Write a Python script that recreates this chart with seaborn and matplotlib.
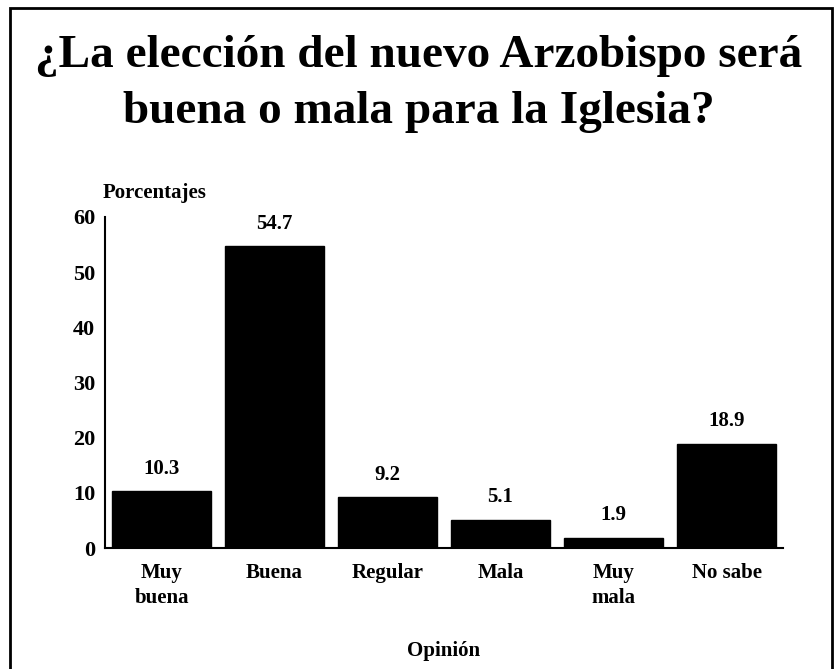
import matplotlib
matplotlib.use("Agg")
import matplotlib.pyplot as plt
import seaborn as sns
import pandas as pd
from matplotlib.patches import Rectangle

categories = ["Muy\nbuena", "Buena", "Regular", "Mala", "Muy\nmala", "No sabe"]
values = [10.3, 54.7, 9.2, 5.1, 1.9, 18.9]
value_labels = ["10.3", "54.7", "9.2", "5.1", "1.9", "18.9"]
yticks = [0, 10, 20, 30, 40, 50, 60]

sns.set_theme(style="white")
plt.rcParams['font.family'] = ['Liberation Serif', 'DejaVu Serif']
plt.rcParams['font.weight'] = 'bold'
plt.rcParams['text.color'] = 'black'
plt.rcParams['axes.labelcolor'] = 'black'
plt.rcParams['xtick.color'] = 'black'
plt.rcParams['ytick.color'] = 'black'

df = pd.DataFrame({"Opinión": categories, "Porcentaje": values})

fig = plt.figure(figsize=(8.38, 6.69), dpi=100)
ax = fig.add_axes([105/838, 1-548/669, 678/838, (548-217)/669])

sns.barplot(data=df, x="Opinión", y="Porcentaje", color="black",
            saturation=1, width=0.87, edgecolor="black", ax=ax)

ax.set_xlim(-0.5, 5.5)
ax.set_ylim(0, 60)
ax.set_yticks(yticks)
ax.set_yticklabels([str(t) for t in yticks], fontsize=16, fontweight='bold')
ax.tick_params(axis='y', length=2, width=1, color='black', pad=7, direction='in')
ax.tick_params(axis='x', length=0, pad=11)
for lbl in ax.get_xticklabels():
    lbl.set_fontsize(15)
    lbl.set_fontweight('bold')
    lbl.set_verticalalignment('top')
    lbl.set_linespacing(1.3)

for s in ["top", "right"]:
    ax.spines[s].set_visible(False)
for s in ["left", "bottom"]:
    ax.spines[s].set_color("black")
    ax.spines[s].set_linewidth(1.5)

for i, (v, t) in enumerate(zip(values, value_labels)):
    ax.annotate(t, (i, v), xytext=(0, 9), textcoords='offset points',
                ha='center', va='bottom', fontsize=15, fontweight='bold')

ax.set_ylabel("")
ax.set_xlabel("Opinión", fontsize=15, fontweight='bold', labelpad=24)
fig.text(103/838, 1-193/669, "Porcentajes", ha='left', va='center', fontsize=15, fontweight='bold')

fig.text(0.5, 1-56/669, "¿La elección del nuevo Arzobispo será", ha='center', va='center',
         fontsize=34, fontweight='bold')
fig.text(0.5, 1-112/669, "buena o mala para la Iglesia?", ha='center', va='center',
         fontsize=34, fontweight='bold')

fig.patches.append(Rectangle((10/838, -0.05), 822/838, 1.05 - 8/669, transform=fig.transFigure,
                             fill=False, edgecolor='black', linewidth=2, figure=fig))

fig.savefig("out.png", dpi=100)
